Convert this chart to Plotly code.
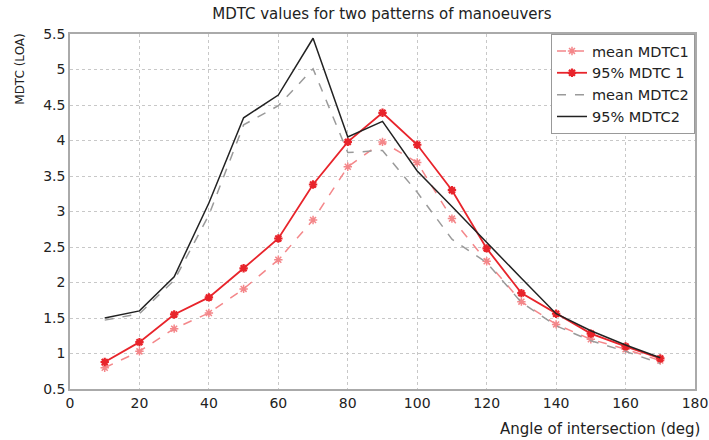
import plotly.graph_objects as go

angles = [10, 20, 30, 40, 50, 60, 70, 80, 90, 100, 110, 120, 130, 140, 150, 160, 170]
mean_mdtc1 = [0.80, 1.03, 1.35, 1.57, 1.91, 2.32, 2.88, 3.63, 3.98, 3.69, 2.90, 2.30, 1.73, 1.41, 1.20, 1.06, 0.90]
p95_mdtc1 = [0.88, 1.16, 1.55, 1.79, 2.20, 2.62, 3.38, 3.98, 4.39, 3.94, 3.30, 2.48, 1.85, 1.56, 1.28, 1.10, 0.93]
mean_mdtc2 = [1.47, 1.56, 2.03, 2.95, 4.22, 4.49, 5.01, 3.83, 3.86, 3.27, 2.61, 2.28, 1.72, 1.39, 1.18, 1.03, 0.86]
p95_mdtc2 = [1.50, 1.60, 2.08, 3.12, 4.32, 4.64, 5.44, 4.05, 4.27, 3.57, 3.07, 2.56, 2.06, 1.56, 1.32, 1.12, 0.94]

FONT = "DejaVu Sans"
fig = go.Figure()
fig.add_trace(go.Scatter(x=angles, y=mean_mdtc1, name="mean MDTC1", mode="lines+markers",
                         line=dict(color="#f4878a", width=1.5, dash="dash"),
                         marker=dict(symbol="asterisk-open", size=7, line=dict(color="#f4878a", width=1.5))))
fig.add_trace(go.Scatter(x=angles, y=p95_mdtc1, name="95% MDTC 1", mode="lines+markers",
                         line=dict(color="#e8242b", width=1.8),
                         marker=dict(symbol="asterisk-open", size=7, line=dict(color="#e8242b", width=2.2))))
fig.add_trace(go.Scatter(x=angles, y=mean_mdtc2, name="mean MDTC2", mode="lines",
                         line=dict(color="#9a9a9a", width=1.5, dash="dash")))
fig.add_trace(go.Scatter(x=angles, y=p95_mdtc2, name="95% MDTC2", mode="lines",
                         line=dict(color="#222222", width=1.5)))

fig.update_layout(
    width=709, height=440,
    margin=dict(l=70, r=14, t=34, b=51, autoexpand=False),
    paper_bgcolor="white", plot_bgcolor="white",
    font=dict(family=FONT, size=14, color="#222222"),
    title=dict(text="MDTC values for two patterns of manoeuvers", x=0.499, xref="paper",
               xanchor="center", y=0.968, yanchor="middle",
               font=dict(size=15, family=FONT, color="#222222")),
    showlegend=True,
    legend=dict(x=1, y=1, xanchor="right", yanchor="top", bgcolor="white",
                bordercolor="#999999", borderwidth=1, font=dict(size=14.5, family=FONT),
                tracegroupgap=0, itemwidth=30),
    xaxis=dict(range=[0, 180], dtick=20, tick0=0, showgrid=True, gridcolor="#c8c8c8",
               griddash="dot", gridwidth=1, showline=True, linecolor="#aaaaaa", linewidth=1.5,
               mirror=True, zeroline=False, ticks="", tickfont=dict(size=14), automargin=False),
    yaxis=dict(range=[0.5, 5.5], dtick=0.5, tick0=0.5, showgrid=True, gridcolor="#c8c8c8",
               griddash="dot", gridwidth=1, showline=True, linecolor="#aaaaaa", linewidth=1.5,
               mirror=True, zeroline=False, ticks="", tickfont=dict(size=14), automargin=False),
    annotations=[
        dict(text="MDTC (LOA)", xref="paper", yref="paper", x=-0.08, y=1.005, xanchor="center",
             yanchor="top", textangle=-90, showarrow=False, font=dict(size=12, family=FONT)),
        dict(text="Angle of intersection (deg)", xref="paper", yref="paper", x=1.011, y=-0.113,
             xanchor="right", yanchor="middle", showarrow=False, font=dict(size=15, family=FONT)),
    ],
)
fig.write_html("out.html", config={"displayModeBar": False},
               post_script="document.body.style.margin='0';document.body.style.overflow='hidden';")
